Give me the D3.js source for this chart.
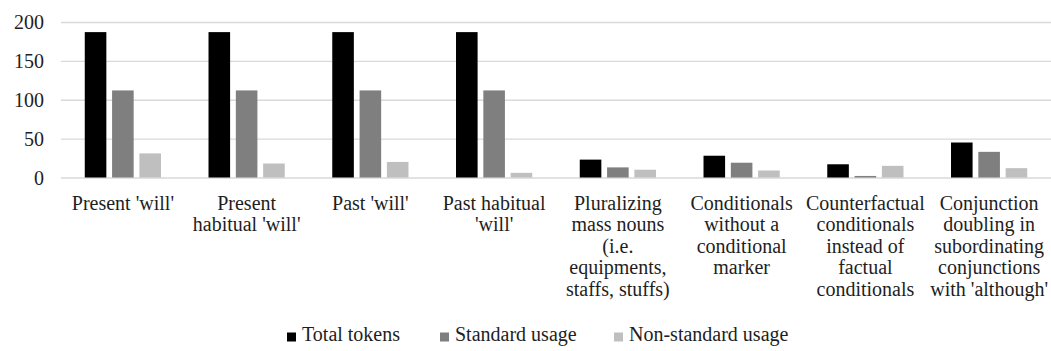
<!DOCTYPE html>
<html>
<head>
<meta charset="utf-8">
<script src="https://cdn.jsdelivr.net/npm/d3@7"></script>
<style>
  html, body { margin: 0; padding: 0; background: #ffffff; }
  svg { display: block; }
</style>
</head>
<body>
<svg id="chart" width="1051" height="351"></svg>
<script>
// Category labels (line breaks as they wrap under each group)
const categories = [
  "Present 'will'",
  "Present\nhabitual 'will'",
  "Past 'will'",
  "Past habitual\n'will'",
  "Pluralizing\nmass nouns\n(i.e.\nequipments,\nstaffs, stuffs)",
  "Conditionals\nwithout a\nconditional\nmarker",
  "Counterfactual\nconditionals\ninstead of\nfactual\nconditionals",
  "Conjunction\ndoubling in\nsubordinating\nconjunctions\nwith 'although'"
];

const seriesNames = ["Total tokens", "Standard usage", "Non-standard usage"];
const totalTokens = [187, 187, 187, 187, 23, 28, 17, 45];
const standardUsage = [112, 112, 112, 112, 13, 19, 2, 33];
const nonStandardUsage = [31, 18, 20, 6, 10, 9, 15, 12];
const yTicks = [0, 50, 100, 150, 200];

const seriesValues = [totalTokens, standardUsage, nonStandardUsage];
const colors = ["#000000", "#7f7f7f", "#bfbfbf"];
const FONT = "'Liberation Serif', 'Times New Roman', serif";
const TEXT_COLOR = "#1e1e1e";

const svg = d3.select("#chart");
const plot = { left: 61, right: 1051, top: 22, bottom: 177.5 };

const x0 = d3.scaleBand()
  .domain(d3.range(categories.length))
  .range([plot.left, plot.right])
  .padding(0);

const x1 = d3.scaleBand()
  .domain(d3.range(seriesNames.length))
  .range([0, x0.bandwidth()])
  .paddingInner(0.21)
  .paddingOuter(0.87);

const y = d3.scaleLinear().domain([0, 200]).range([plot.bottom, plot.top]);

// Horizontal gridlines with value labels
const yAxis = d3.axisLeft(y).tickValues(yTicks).tickSize(-(plot.right - plot.left)).tickPadding(17);
const gy = svg.append("g").attr("transform", `translate(${plot.left},0)`).call(yAxis);
gy.attr("font-family", null);
gy.select(".domain").remove();
gy.selectAll(".tick line").attr("stroke", "#d9d9d9").attr("stroke-width", 1.4);
gy.selectAll(".tick text")
  .style("font-family", FONT)
  .style("font-size", "20px")
  .attr("fill", TEXT_COLOR)
  .attr("dy", "0.34em");

// Bars
const groups = svg.append("g").selectAll("g")
  .data(categories.map((c, i) => i))
  .join("g")
  .attr("transform", i => `translate(${x0(i)},0)`);

groups.selectAll("rect")
  .data(i => seriesValues.map((vals, s) => ({ s, v: vals[i] })))
  .join("rect")
  .attr("x", d => x1(d.s))
  .attr("width", x1.bandwidth())
  .attr("y", d => y(d.v))
  .attr("height", d => y(0) - y(d.v))
  .attr("fill", d => colors[d.s]);

// Category labels below the baseline
const labels = svg.append("g").selectAll("text")
  .data(categories)
  .join("text")
  .attr("text-anchor", "middle")
  .style("font-family", FONT)
  .style("font-size", "20px")
  .attr("fill", TEXT_COLOR)
  .attr("transform", (d, i) => `translate(${x0(i) + x0.bandwidth() / 2},209.5)`);

labels.selectAll("tspan")
  .data(d => d.split("\n"))
  .join("tspan")
  .attr("x", 0)
  .attr("y", (d, k) => k * 21.6)
  .text(d => d);

// Legend
const legendX = [287, 440, 614];
const legend = svg.append("g").selectAll("g")
  .data(seriesNames)
  .join("g")
  .attr("transform", (d, i) => `translate(${legendX[i]},340.5)`);

legend.append("rect")
  .attr("x", 0).attr("y", -8).attr("width", 9).attr("height", 9)
  .attr("fill", (d, i) => colors[i]);

legend.append("text")
  .attr("x", 15).attr("y", 0)
  .style("font-family", FONT)
  .style("font-size", "20px")
  .attr("fill", TEXT_COLOR)
  .text(d => d);
</script>
</body>
</html>
